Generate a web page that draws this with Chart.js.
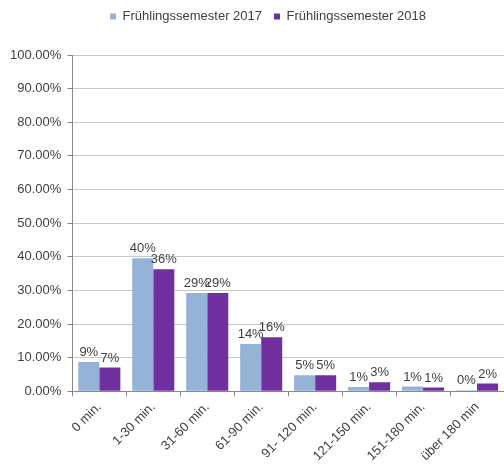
<!DOCTYPE html>
<html>
<head>
<meta charset="utf-8">
<script src="https://cdn.jsdelivr.net/npm/chart.js@4"></script>
<style>
  html, body { margin: 0; padding: 0; background: #fff; overflow: hidden; }
  #wrap { width: 504px; height: 469px; }
</style>
</head>
<body>
<div id="wrap"><canvas id="myChart" width="504" height="469"></canvas></div>
<script>
var categories = ['0 min.', '1-30 min.', '31-60 min.', '61-90 min.', '91- 120 min.', '121-150 min.', '151-180 min.', 'über 180 min'];
var values2017 = [8.7, 39.6, 29.2, 14.1, 4.8, 1.3, 1.4, 0.3];
var values2018 = [7.1, 36.3, 29.2, 16.1, 4.8, 2.7, 1.1, 2.3];
var yTicks = [0, 10, 20, 30, 40, 50, 60, 70, 80, 90, 100];

Chart.defaults.font.family = '"Liberation Sans", Arial, sans-serif';
Chart.defaults.color = '#404040';

// labels over each bar, placed from the bar elements
var barLabels = {
    id: 'barLabels',
    afterDatasetsDraw: function (chart) {
        var ctx = chart.ctx;
        ctx.save();
        ctx.font = '13px "Liberation Sans", Arial, sans-serif';
        ctx.fillStyle = '#404040';
        ctx.textAlign = 'center';
        ctx.textBaseline = 'bottom';
        chart.data.datasets.forEach(function (ds, i) {
            chart.getDatasetMeta(i).data.forEach(function (bar, j) {
                ctx.fillText(Math.round(ds.data[j]) + '%', bar.x, bar.y - 3);
            });
        });
        ctx.restore();
    }
};

// legend: shift right a bit and leave a gap under it
var legendTweak = {
    id: 'legendTweak',
    beforeInit: function (chart) {
        var origFit = chart.legend.fit;
        chart.legend.fit = function () {
            origFit.call(this);
            this.height += 20;
        };
    },
    afterLayout: function (chart) {
        chart.legend.left += 14;
        chart.legend.right += 14;
        chart.legend.top -= 2;
    }
};

const data = {
    labels: categories,
    datasets: [{
        label: 'Frühlingssemester 2017',
        data: values2017,
        backgroundColor: '#95b3d7',
        categoryPercentage: 0.78,
        barPercentage: 1.0
    }, {
        label: 'Frühlingssemester 2018',
        data: values2018,
        backgroundColor: '#7030a0',
        categoryPercentage: 0.78,
        barPercentage: 1.0
    }]
};

const config = {
    type: 'bar',
    data: data,
    plugins: [barLabels, legendTweak],
    options: {
        responsive: false,
        animation: false,
        layout: {
            padding: { left: 4, right: 0, top: 0, bottom: 2 }
        },
        plugins: {
            legend: {
                display: true,
                position: 'top',
                labels: {
                    boxWidth: 6,
                    boxHeight: 6,
                    padding: 12,
                    font: { size: 13 },
                    color: '#404040'
                }
            },
            tooltip: { enabled: false }
        },
        scales: {
            x: {
                offset: true,
                grid: {
                    offset: true,
                    drawOnChartArea: false,
                    drawTicks: true,
                    tickLength: 5,
                    color: '#888888'
                },
                border: { color: '#888888' },
                ticks: {
                    maxRotation: 45,
                    minRotation: 45,
                    font: { size: 13 },
                    color: '#404040',
                    padding: 3
                }
            },
            y: {
                min: 0,
                max: 100,
                afterBuildTicks: function (axis) {
                    axis.ticks = yTicks.map(function (v) { return { value: v }; });
                },
                grid: {
                    color: '#c8c8c8',
                    tickLength: 5,
                    tickColor: '#888888'
                },
                border: { color: '#888888' },
                ticks: {
                    font: { size: 13 },
                    color: '#404040',
                    padding: 6,
                    callback: function (v) { return v.toFixed(2) + '%'; }
                }
            }
        }
    }
};

var ctx = document.getElementById('myChart').getContext('2d');
var myNewChart = new Chart(ctx, config);
</script>
</body>
</html>
